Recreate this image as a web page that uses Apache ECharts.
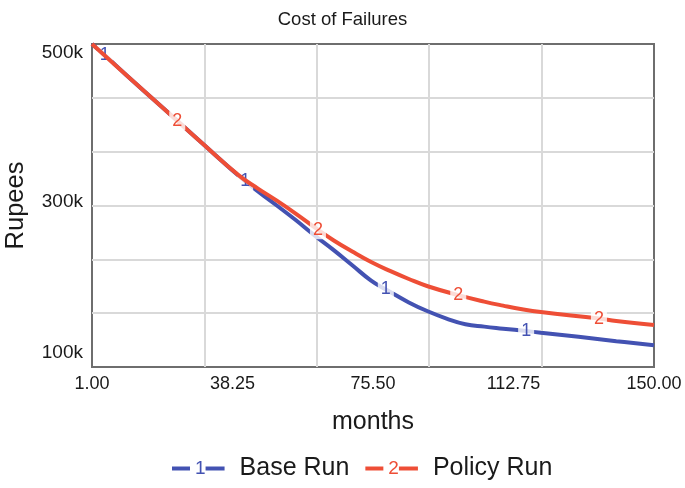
<!DOCTYPE html>
<html>
<head>
<meta charset="utf-8">
<script src="https://cdn.jsdelivr.net/npm/echarts@6/dist/echarts.min.js"></script>
<style>html,body{margin:0;padding:0;background:#fff}#c{width:685px;height:488px}</style>
</head>
<body>
<div id="c"></div>
<script>
// ---- data (values in thousands of rupees) ----
const baseMonths   = [1, 4.4, 10, 20, 30, 41.6, 50, 55, 60, 65, 70, 75, 78.9, 85, 90, 95, 100, 105, 110, 116.1, 120, 130, 140, 150];
const baseValues   = [500, 486, 462, 420, 378, 330, 300, 282, 263, 245, 226, 207, 196, 180, 169, 160, 153, 150, 147.5, 144.5, 142.5, 137.5, 132, 127];
const baseLabelMonths = [4.4, 41.6, 78.9, 116.1];

const policyMonths = [1, 10, 23.6, 30, 40, 45, 50, 55, 60.9, 65, 70, 75, 80, 85, 90, 98.1, 105, 110, 115, 120, 135.4, 140, 150];
const policyValues = [500, 462, 405, 378, 337, 321, 306, 290, 270, 257, 243, 230, 219, 209, 200, 189, 181, 176, 171.5, 168, 160, 157, 152];
const policyLabelMonths = [23.6, 60.9, 98.1, 135.4];

const xTickLabels = ['1.00', '38.25', '75.50', '112.75', '150.00'];
const yTickLabels = ['100k', '300k', '500k'];

const seriesNames = ['Base Run', 'Policy Run'];
const seriesMarks = ['1', '2'];
const colors = ['#4352b2', '#ee4e36'];

const FONT = '"Liberation Sans", Arial, Helvetica, sans-serif';

function buildData(months, values, labelMonths, color, mark) {
  return months.map((m, i) => {
    const item = { value: [m, values[i]] };
    if (labelMonths.indexOf(m) >= 0) {
      item.label = {
        show: true, position: 'inside', formatter: mark, color: color,
        fontSize: 18, fontFamily: FONT,
        backgroundColor: 'rgba(255,255,255,0.8)', padding: [1, 3, 0, 3]
      };
    }
    return item;
  });
}

const chart = echarts.init(document.getElementById('c'));
chart.setOption({
  animation: false,
  backgroundColor: '#fff',
  title: {
    text: 'Cost of Failures', left: 'center', top: 5,
    textStyle: { fontSize: 18.5, fontWeight: 'normal', color: '#1a1a1a', fontFamily: FONT }
  },
  grid: {
    left: 92, right: 31, top: 44, bottom: 121,
    outerBoundsMode: 'none', containLabel: false,
    show: true, borderColor: '#6e6e6e', borderWidth: 2, backgroundColor: 'transparent'
  },
  legend: {
    bottom: 2, left: 167, itemGap: 16,
    icon: 'rect', itemWidth: 18, itemHeight: 4,
    data: seriesNames,
    formatter: function (name) {
      const i = seriesNames.indexOf(name);
      return '{n' + i + '|' + seriesMarks[i] + '}{d' + i + '| }{t|' + name + '}';
    },
    textStyle: {
      fontFamily: FONT, fontSize: 25, color: '#1a1a1a',
      rich: {
        n0: { color: colors[0], fontSize: 19, fontFamily: FONT },
        n1: { color: colors[1], fontSize: 19, fontFamily: FONT },
        d0: { width: 19, height: 4, backgroundColor: colors[0] },
        d1: { width: 19, height: 4, backgroundColor: colors[1] },
        t: { fontSize: 25, fontFamily: FONT, color: '#1a1a1a', padding: [0, 0, 0, 15] }
      }
    }
  },
  xAxis: [
    {
      type: 'value', min: 1, max: 150, gridIndex: 0,
      name: 'months', nameLocation: 'middle', nameGap: 43,
      nameTextStyle: { fontSize: 25, color: '#1a1a1a', fontFamily: FONT },
      axisLine: { show: false }, axisTick: { show: false }, axisLabel: { show: false }, splitLine: { show: false }
    },
    {
      type: 'value', min: 0, max: 5, interval: 1, gridIndex: 0,
      axisLine: { show: false }, axisTick: { show: false }, axisLabel: { show: false },
      splitLine: { show: true, showMinLine: false, showMaxLine: false, lineStyle: { color: '#d9d9d9', width: 2 } }
    },
    {
      type: 'value', min: 0, max: 4, interval: 1, gridIndex: 0, position: 'bottom',
      axisLine: { show: false }, axisTick: { show: false }, splitLine: { show: false },
      axisLabel: {
        show: true, margin: 8, fontSize: 18, color: '#1a1a1a', fontFamily: FONT,
        formatter: v => xTickLabels[v]
      }
    }
  ],
  yAxis: [
    {
      type: 'value', min: 100, max: 500, gridIndex: 0,
      name: 'Rupees', nameLocation: 'middle', nameGap: 63, nameRotate: 90,
      nameTextStyle: { fontSize: 25.5, color: '#1a1a1a', fontFamily: FONT },
      axisLine: { show: false }, axisTick: { show: false }, axisLabel: { show: false }, splitLine: { show: false }
    },
    {
      type: 'value', min: 0, max: 6, interval: 1, gridIndex: 0,
      axisLine: { show: false }, axisTick: { show: false }, axisLabel: { show: false },
      splitLine: { show: true, showMinLine: false, showMaxLine: false, lineStyle: { color: '#d9d9d9', width: 2 } }
    },
    {
      type: 'value', min: 0, max: 2, interval: 1, gridIndex: 0, position: 'left',
      axisLine: { show: false }, axisTick: { show: false }, splitLine: { show: false },
      axisLabel: {
        show: true, margin: 9, fontSize: 19, color: '#1a1a1a', fontFamily: FONT,
        formatter: v => '{s' + v + '|' + yTickLabels[v] + '}',
        rich: {
          s0: { fontSize: 19, color: '#1a1a1a', fontFamily: FONT, padding: [0, 0, 28, 0] },
          s1: { fontSize: 19, color: '#1a1a1a', fontFamily: FONT, padding: [0, 0, 8, 0] },
          s2: { fontSize: 19, color: '#1a1a1a', fontFamily: FONT, padding: [18, 0, 0, 0] }
        }
      }
    }
  ],
  series: [
    {
      name: seriesNames[0], type: 'line', xAxisIndex: 0, yAxisIndex: 0,
      smooth: 0.45, symbol: 'circle', symbolSize: 0, showSymbol: true,
      lineStyle: { color: colors[0], width: 4 }, itemStyle: { color: colors[0] },
      label: { show: false },
      data: buildData(baseMonths, baseValues, baseLabelMonths, colors[0], seriesMarks[0]),
      z: 2
    },
    {
      name: seriesNames[1], type: 'line', xAxisIndex: 0, yAxisIndex: 0,
      smooth: 0.45, symbol: 'circle', symbolSize: 0, showSymbol: true,
      lineStyle: { color: colors[1], width: 4 }, itemStyle: { color: colors[1] },
      label: { show: false },
      data: buildData(policyMonths, policyValues, policyLabelMonths, colors[1], seriesMarks[1]),
      z: 3
    }
  ]
});
</script>
</body>
</html>
